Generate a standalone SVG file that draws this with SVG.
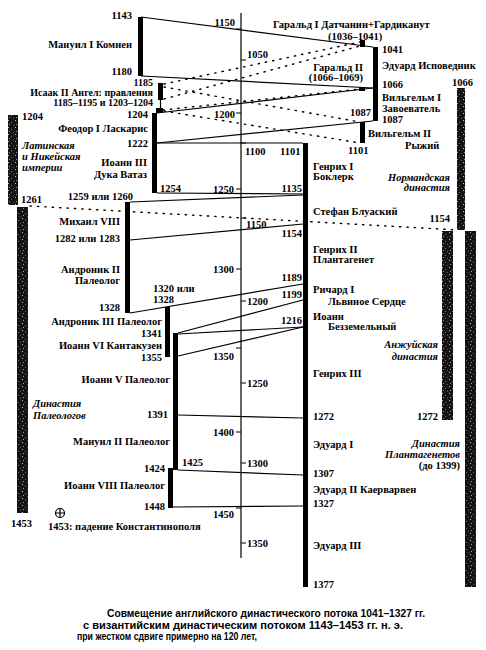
<svg xmlns="http://www.w3.org/2000/svg" width="486" height="650" viewBox="0 0 486 650">
<defs>
<pattern id="tex" width="7" height="7" patternUnits="userSpaceOnUse">
<rect width="7" height="7" fill="#141414"/>
<rect x="1" y="1" width="1" height="1" fill="#bdbdbd"/>
<rect x="4" y="3" width="1" height="1" fill="#6e6e6e"/>
<rect x="2" y="5" width="1" height="1" fill="#9a9a9a"/>
<rect x="6" y="6" width="1" height="1" fill="#555"/>
</pattern>
<style>
.t{font-family:"Liberation Serif","DejaVu Serif",serif;font-size:10.5px;font-weight:bold;fill:#000}
.s{font-size:10px}
.i{font-style:italic}
.e{text-anchor:end}
.cap{font-family:"Liberation Sans","DejaVu Sans",sans-serif;font-size:10px;font-weight:bold;fill:#000}
.ln{stroke:#000;stroke-width:1.2;fill:none}
.dot{stroke:#000;stroke-width:1.4;stroke-dasharray:1.4 6;stroke-linecap:round;fill:none}
.bar{fill:#000}
.tx{fill:url(#tex)}
</style>
</defs>
<rect width="486" height="650" fill="#fff"/>

<g id="axis">
<line class="ln" x1="241" y1="13" x2="241" y2="558"/>
<path class="ln" d="M236 29H241M236 113H241M236 189H241M236 269H241M236 348H241M236 432H241M236 508H241"/>
<path class="ln" d="M241 60H246M241 143H246M241 218H246M241 301H246M241 383H246M241 463H246M241 543H246"/>
<g class="t e">
<text x="235" y="26">1150</text>
<text x="235" y="118">1200</text>
<text x="234" y="193">1250</text>
<text x="234" y="273">1300</text>
<text x="234" y="360">1350</text>
<text x="234" y="436">1400</text>
<text x="234" y="518">1450</text>
</g>
<g class="t">
<text x="247" y="58">1050</text>
<text x="245" y="155">1100</text>
<text x="246" y="228">1150</text>
<text x="247" y="305">1200</text>
<text x="247" y="387">1250</text>
<text x="247" y="467">1300</text>
<text x="247" y="547">1350</text>
</g>
</g>

<g id="connectors">
<line class="ln" x1="141" y1="17" x2="373" y2="47"/>
<line class="ln" x1="141" y1="76" x2="373" y2="88"/>
<line class="ln" x1="157" y1="113" x2="373" y2="88"/>
<line class="ln" x1="157" y1="143" x2="373" y2="121"/>
<line class="ln" x1="157" y1="143" x2="303" y2="143"/>
<line class="ln" x1="157" y1="193" x2="303" y2="194"/>
<line class="ln" x1="130" y1="202" x2="303" y2="195"/>
<line class="ln" x1="130" y1="240" x2="303" y2="224"/>
<line class="ln" x1="130" y1="313" x2="303" y2="284"/>
<line class="ln" x1="178" y1="333" x2="303" y2="300"/>
<line class="ln" x1="178" y1="334" x2="303" y2="327"/>
<line class="ln" x1="178" y1="356" x2="303" y2="327"/>
<line class="ln" x1="178" y1="415" x2="303" y2="418"/>
<line class="ln" x1="178" y1="470" x2="303" y2="475"/>
<line class="ln" x1="173" y1="507" x2="303" y2="506"/>
<line class="dot" x1="164" y1="84" x2="360" y2="42"/>
<line class="dot" x1="164" y1="99" x2="360" y2="46"/>
<line class="dot" x1="164" y1="87" x2="360" y2="122"/>
<line class="dot" x1="164" y1="111" x2="360" y2="143"/>
<line class="dot" x1="163" y1="110" x2="360" y2="89"/>
<line class="dot" x1="30" y1="206" x2="458" y2="230"/>
</g>

<g id="latin-nicaean">
<rect class="tx" x="8" y="115" width="10" height="90"/>
<text class="t" x="22" y="120">1204</text>
<text class="t i" x="22" y="149">Латинская</text>
<text class="t i" x="22" y="160">и Никейская</text>
<text class="t i" x="22" y="171">империи</text>
<text class="t" x="21" y="203">1261</text>
</g>
<g id="paleolog-dynasty">
<rect class="tx" x="17" y="207" width="11" height="306"/>
<text class="t i" x="33" y="407">Династия</text>
<text class="t i" x="33" y="419">Палеологов</text>
<text class="t" x="11" y="527">1453</text>
</g>
<g id="fall">
<circle cx="60" cy="513" r="4.5" fill="none" stroke="#000" stroke-width="1.2"/>
<path class="ln" d="M55.5 513H64.5M60 508.5V517.5"/>
<text class="t" x="48" y="530">1453: падение Константинополя</text>
</g>

<g id="manuil-i">
<rect class="bar" x="138" y="17" width="5" height="59"/>
<text class="t e" x="132" y="19">1143</text>
<text class="t e" x="132" y="48">Мануил I Комнен</text>
<text class="t e" x="132" y="75">1180</text>
</g>
<g id="isaak-ii">
<rect class="bar" x="158" y="83" width="5" height="17"/>
<line class="ln" x1="160.5" y1="100" x2="160.5" y2="109"/>
<rect class="bar" x="156" y="108" width="7" height="5"/>
<text class="t s e" x="153" y="86">1185</text>
<text class="t s e" x="153" y="96">Исаак II Ангел: правления</text>
<text class="t s e" x="153" y="106">1185–1195 и 1203–1204</text>
</g>
<g id="feodor-i">
<rect class="bar" x="152" y="113" width="5" height="30"/>
<text class="t e" x="148" y="118">1204</text>
<text class="t e" x="148" y="132">Феодор I Ласкарис</text>
<text class="t e" x="148" y="147">1222</text>
</g>
<g id="ioann-iii">
<rect class="bar" x="152" y="143" width="5" height="50"/>
<text class="t e" x="147" y="166">Иоанн III</text>
<text class="t e" x="147" y="178">Дука Ватаз</text>
<text class="t" x="160" y="192">1254</text>
</g>
<g id="mikhail-viii">
<rect class="bar" x="125" y="202" width="5" height="38"/>
<text class="t e" x="133" y="200">1259 или 1260</text>
<text class="t e" x="120" y="225">Михаил VIII</text>
<text class="t e" x="120" y="242">1282 или 1283</text>
</g>
<g id="andronik-ii">
<rect class="bar" x="125" y="240" width="5" height="73"/>
<text class="t e" x="120" y="273">Андроник II</text>
<text class="t e" x="120" y="284">Палеолог</text>
<text class="t e" x="120" y="311">1328</text>
</g>
<g id="andronik-iii">
<rect class="bar" x="165" y="307" width="5" height="26"/>
<text class="t" x="153" y="292">1320 или</text>
<text class="t" x="153" y="303">1328</text>
<text class="t e" x="162" y="325">Андроник III Палеолог</text>
<text class="t e" x="162" y="337">1341</text>
</g>
<g id="ioann-vi">
<rect class="bar" x="165" y="333" width="5" height="24"/>
<text class="t e" x="162" y="349">Иоанн VI Кантакузен</text>
<text class="t e" x="162" y="361">1355</text>
</g>
<g id="ioann-v">
<rect class="bar" x="173" y="333" width="5" height="83"/>
<text class="t e" x="170" y="383">Иоанн V Палеолог</text>
<text class="t e" x="168" y="418">1391</text>
</g>
<g id="manuil-ii">
<rect class="bar" x="173" y="416" width="5" height="54"/>
<text class="t e" x="170" y="445">Мануил II Палеолог</text>
<text class="t" x="182" y="466">1425</text>
</g>
<g id="ioann-viii">
<rect class="bar" x="168" y="468" width="5" height="40"/>
<text class="t e" x="165" y="472">1424</text>
<text class="t e" x="165" y="489">Иоанн VIII Палеолог</text>
<text class="t e" x="165" y="510">1448</text>
</g>

<g id="garald-i">
<rect class="bar" x="360" y="40" width="5" height="7"/>
<text class="t" x="273" y="28">Гаральд I Датчанин+Гардиканут</text>
<text class="t" x="328" y="40">(1036–1041)</text>
</g>
<g id="eduard-ispovednik">
<rect class="bar" x="373" y="47" width="5" height="41"/>
<text class="t" x="382" y="53">1041</text>
<text class="t" x="382" y="69">Эдуард Исповедник</text>
<text class="t" x="382" y="88">1066</text>
</g>
<g id="garald-ii">
<rect class="bar" x="359" y="87" width="6" height="4"/>
<text class="t e" x="363" y="71">Гаральд II</text>
<text class="t e" x="363" y="81">(1066–1069)</text>
</g>
<g id="vilgelm-i">
<rect class="bar" x="373" y="88" width="5" height="33"/>
<text class="t" x="382" y="101">Вильгельм I</text>
<text class="t" x="382" y="112">Завоеватель</text>
<text class="t" x="382" y="123">1087</text>
</g>
<g id="vilgelm-ii">
<rect class="bar" x="360" y="122" width="5" height="21"/>
<text class="t e" x="371" y="116">1087</text>
<text class="t" x="368" y="137">Вильгельм II</text>
<text class="t" x="405" y="149">Рыжий</text>
<text class="t" x="348" y="154">1101</text>
</g>

<g id="henrih-i">
<rect class="bar" x="303" y="143" width="5" height="51"/>
<text class="t" x="280" y="155">1101</text>
<text class="t" x="313" y="170">Генрих I</text>
<text class="t" x="313" y="180">Боклерк</text>
<text class="t e" x="302" y="192">1135</text>
</g>
<g id="stefan">
<rect class="bar" x="303" y="194" width="5" height="30"/>
<text class="t" x="313" y="215">Стефан Блуаский</text>
<text class="t e" x="302" y="237">1154</text>
</g>
<g id="henrih-ii">
<rect class="bar" x="303" y="224" width="5" height="60"/>
<text class="t" x="313" y="253">Генрих II</text>
<text class="t" x="313" y="263">Плантагенет</text>
<text class="t e" x="302" y="281">1189</text>
</g>
<g id="richard-i">
<rect class="bar" x="303" y="284" width="5" height="16"/>
<text class="t" x="313" y="293">Ричард I</text>
<text class="t" x="328" y="305">Львиное Сердце</text>
<text class="t e" x="302" y="298">1199</text>
</g>
<g id="ioann">
<rect class="bar" x="303" y="300" width="5" height="27"/>
<text class="t" x="313" y="320">Иоанн</text>
<text class="t" x="328" y="330">Безземельный</text>
<text class="t e" x="302" y="324">1216</text>
</g>
<g id="henrih-iii">
<rect class="bar" x="303" y="327" width="5" height="91"/>
<text class="t" x="313" y="377">Генрих III</text>
<text class="t" x="313" y="420">1272</text>
</g>
<g id="eduard-i">
<rect class="bar" x="303" y="418" width="5" height="57"/>
<text class="t" x="313" y="448">Эдуард I</text>
<text class="t" x="313" y="477">1307</text>
</g>
<g id="eduard-ii">
<rect class="bar" x="303" y="475" width="5" height="31"/>
<text class="t" x="313" y="493">Эдуард II Каерварвен</text>
<text class="t" x="313" y="507">1327</text>
</g>
<g id="eduard-iii">
<rect class="bar" x="303" y="506" width="5" height="81"/>
<text class="t" x="313" y="549">Эдуард III</text>
<text class="t" x="313" y="588">1377</text>
</g>

<g id="norman-dynasty">
<rect class="tx" x="457" y="88" width="8" height="142"/>
<text class="t" x="452" y="86">1066</text>
<text class="t i e" x="450" y="181">Нормандская</text>
<text class="t i e" x="450" y="191">династия</text>
<text class="t e" x="450" y="222">1154</text>
</g>
<g id="angevin-dynasty">
<rect class="tx" x="442" y="231" width="11" height="189"/>
<text class="t i e" x="438" y="348">Анжуйская</text>
<text class="t i e" x="438" y="360">династия</text>
<text class="t e" x="438" y="420">1272</text>
</g>
<g id="plantagenet-dynasty">
<rect class="tx" x="465" y="231" width="11" height="356"/>
<text class="t i e" x="460" y="447">Династия</text>
<text class="t i e" x="460" y="458">Плантагенетов</text>
<text class="t e" x="460" y="469">(до 1399)</text>
</g>

<g id="caption">
<text class="cap" x="107" y="617" textLength="318" lengthAdjust="spacingAndGlyphs">Совмещение английского династического потока 1041–1327 гг.</text>
<text class="cap" x="83" y="629" textLength="320" lengthAdjust="spacingAndGlyphs">с византийским династическим потоком 1143–1453 гг. н. э.</text>
<text class="cap" x="77" y="640" textLength="180" lengthAdjust="spacingAndGlyphs">при жестком сдвиге примерно на 120 лет,</text>
</g>
</svg>
